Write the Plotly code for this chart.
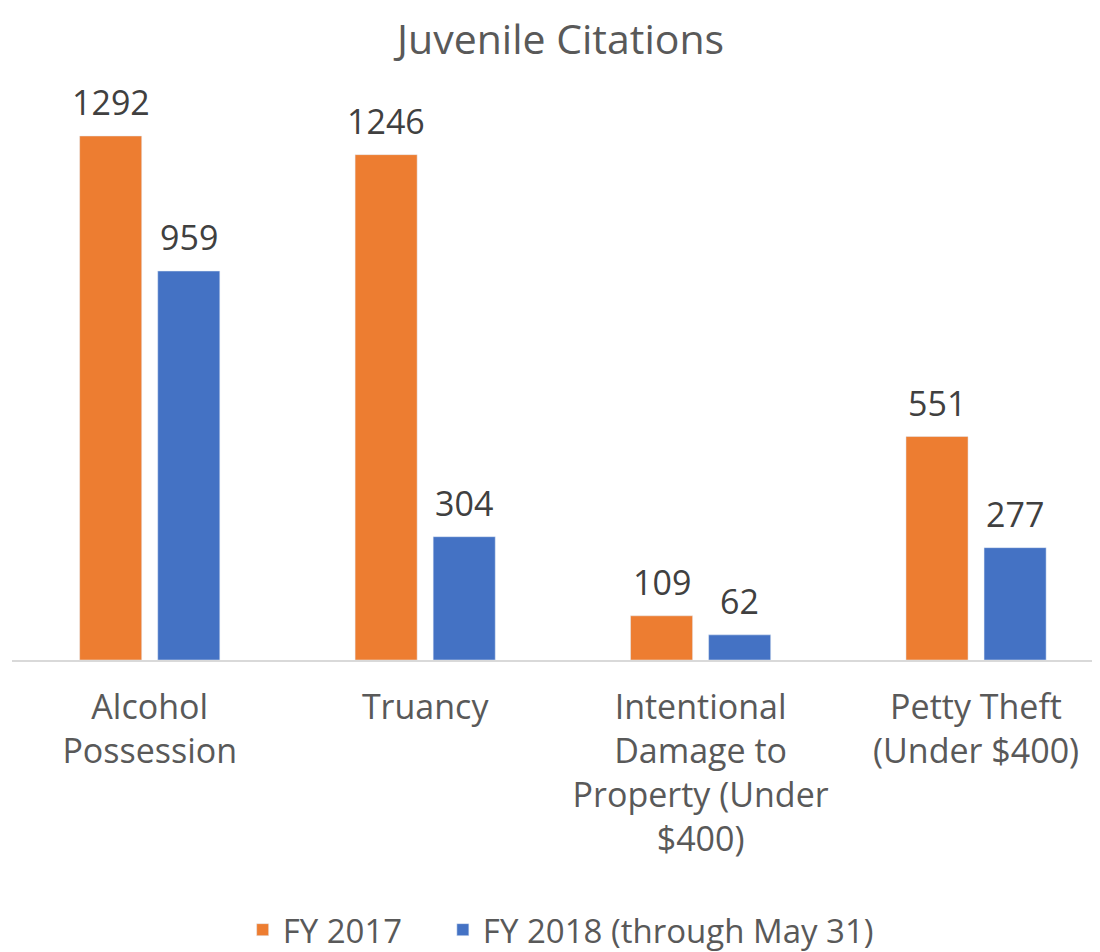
import plotly.graph_objects as go

categories = ["Alcohol<br>Possession", "Truancy",
              "Intentional<br>Damage to<br>Property (Under<br>$400)",
              "Petty Theft<br>(Under $400)"]
fy2017 = [1292, 1246, 109, 551]
fy2018 = [959, 304, 62, 277]
series_names = ["FY 2017", "FY 2018 (through May 31)"]

FONT = "Open Sans"
TXT = "#595959"
LBL = "#404040"

fig = go.Figure()
fig.add_trace(go.Bar(x=categories, y=fy2017, name=series_names[0],
                     marker_color="#ED7D31", legend="legend"))
fig.add_trace(go.Bar(x=categories, y=fy2018, name=series_names[1],
                     marker_color="#4472C4", legend="legend2"))

# value labels, placed from the data through the axes
for vals, dx in ((fy2017, -39), (fy2018, 39)):
    for c, v in zip(categories, vals):
        fig.add_annotation(x=c, y=v, text=str(v), showarrow=False,
                           xshift=dx, yshift=9, yanchor="bottom",
                           font=dict(size=34, color=LBL, family=FONT))

leg_common = dict(orientation="h", xanchor="left", y=-0.465, yanchor="middle",
                  font=dict(size=33, color=TXT, family=FONT), bgcolor="rgba(0,0,0,0)")

fig.update_layout(
    width=1092, height=944,
    paper_bgcolor="white", plot_bgcolor="white",
    font=dict(family=FONT, size=34, color=TXT),
    title=dict(text="Juvenile Citations", x=0.506, xanchor="center", y=0.966, yanchor="middle",
               font=dict(size=41, color=TXT, family=FONT)),
    barmode="group", bargap=0.433, bargroupgap=0.205,
    margin=dict(l=4, r=0, t=72, b=292, autoexpand=False),
    showlegend=True,
    legend=dict(x=0.212, **leg_common),
    legend2=dict(x=0.396, **leg_common),
    xaxis=dict(range=[-0.5, 3.45], showline=True, linecolor="#D9D9D9", linewidth=1.5,
               automargin=False, ticks="outside", tickcolor="rgba(0,0,0,0)", ticklen=16,
               tickfont=dict(size=34, color=TXT, family=FONT)),
    yaxis=dict(range=[0, 1430], showgrid=False, showticklabels=False, zeroline=False,
               automargin=False),
)

fig.write_html("out.html")
